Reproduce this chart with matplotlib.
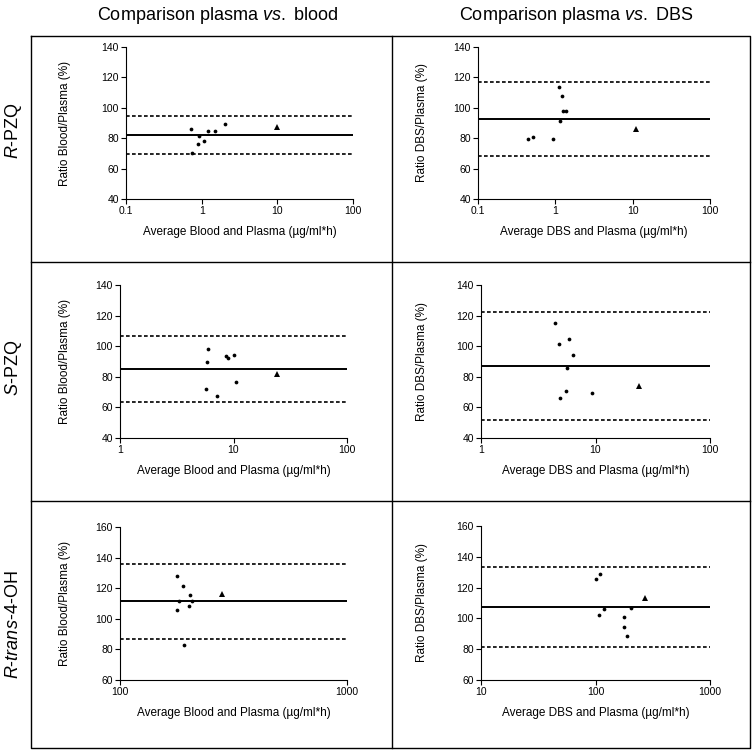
"""Bland-Altman style ratio plots: plasma vs blood / plasma vs DBS for three analytes."""

import matplotlib
matplotlib.use("Agg")
import matplotlib.pyplot as plt
from matplotlib.lines import Line2D
from matplotlib.ticker import FixedLocator, FormatStrFormatter, NullLocator

plt.rcParams["font.family"] = ["Liberation Sans", "DejaVu Sans"]
plt.rcParams["mathtext.fontset"] = "custom"
plt.rcParams["mathtext.rm"] = "Liberation Sans"
plt.rcParams["mathtext.it"] = "Liberation Sans:italic"

# ---- data ----
# R-PZQ, blood vs plasma
RPZQ_BLOOD_X = [0.73, 0.74, 0.93, 0.90, 1.07, 1.20, 1.49, 2.06]
RPZQ_BLOOD_Y = [86.1, 70.3, 81.4, 76.0, 78.0, 85.0, 85.0, 89.6]
RPZQ_BLOOD_TRI = [10.0, 87.4]
RPZQ_BLOOD_LINES = [82.3, 94.4, 69.8]  # mean, upper, lower

# R-PZQ, DBS vs plasma
RPZQ_DBS_X = [0.44, 0.51, 0.92, 1.10, 1.21, 1.25, 1.37, 1.16]
RPZQ_DBS_Y = [79.7, 80.8, 79.7, 113.8, 107.5, 97.6, 97.6, 91.0]
RPZQ_DBS_TRI = [11.2, 85.9]
RPZQ_DBS_LINES = [92.4, 116.9, 68.0]

# S-PZQ, blood vs plasma
SPZQ_BLOOD_X = [6.0, 5.8, 5.7, 7.2, 8.6, 8.9, 10.2, 10.6]
SPZQ_BLOOD_Y = [98.0, 90.0, 72.0, 67.4, 93.7, 92.4, 94.3, 76.7]
SPZQ_BLOOD_TRI = [24.0, 81.7]
SPZQ_BLOOD_LINES = [85.4, 106.7, 63.7]

# S-PZQ, DBS vs plasma
SPZQ_DBS_X = [4.4, 4.8, 5.9, 6.3, 5.6, 5.5, 4.9, 9.3]
SPZQ_DBS_Y = [115.0, 101.3, 104.6, 94.0, 86.0, 70.4, 66.3, 69.3]
SPZQ_DBS_TRI = [23.8, 74.1]
SPZQ_DBS_LINES = [87.3, 122.3, 52.0]

# R-trans-4-OH, blood vs plasma
ROH_BLOOD_X = [178, 190, 182, 179, 203, 201, 207, 192]
ROH_BLOOD_Y = [127.9, 121.3, 111.9, 105.5, 115.6, 108.4, 111.4, 83.1]
ROH_BLOOD_TRI = [280, 116.3]
ROH_BLOOD_LINES = [111.4, 136.0, 86.6]

# R-trans-4-OH, DBS vs plasma
ROH_DBS_X = [102, 109, 108, 119, 177, 179, 187, 205]
ROH_DBS_Y = [125.6, 128.9, 102.5, 106.2, 101.2, 94.4, 88.7, 106.6]
ROH_DBS_TRI = [271, 113.0]
ROH_DBS_LINES = [107.5, 133.7, 81.7]

ROW_LABELS = ["$\\mathit{R}$-PZQ", "$\\mathit{S}$-PZQ", "$\\mathit{R}$-$\\mathit{trans}$-4-OH"]
COL_TITLES = ["Comparison plasma $\\mathit{vs.}$ blood", "Comparison plasma $\\mathit{vs.}$ DBS"]
YLABELS = ["Ratio Blood/Plasma (%)", "Ratio DBS/Plasma (%)"]
XLABELS = ["Average Blood and Plasma (\u00b5g/ml*h)", "Average DBS and Plasma (\u00b5g/ml*h)"]

X_TICKS = [[0.1, 1, 10, 100], [1, 10, 100], [100, 1000], [10, 100, 1000]]
Y_TICKS = [[40, 60, 80, 100, 120, 140], [60, 80, 100, 120, 140, 160]]

PANELS = [
    # (row, col, x, y, tri, lines, xticks idx, yticks idx)
    (0, 0, RPZQ_BLOOD_X, RPZQ_BLOOD_Y, RPZQ_BLOOD_TRI, RPZQ_BLOOD_LINES, 0, 0),
    (0, 1, RPZQ_DBS_X, RPZQ_DBS_Y, RPZQ_DBS_TRI, RPZQ_DBS_LINES, 0, 0),
    (1, 0, SPZQ_BLOOD_X, SPZQ_BLOOD_Y, SPZQ_BLOOD_TRI, SPZQ_BLOOD_LINES, 1, 0),
    (1, 1, SPZQ_DBS_X, SPZQ_DBS_Y, SPZQ_DBS_TRI, SPZQ_DBS_LINES, 1, 0),
    (2, 0, ROH_BLOOD_X, ROH_BLOOD_Y, ROH_BLOOD_TRI, ROH_BLOOD_LINES, 2, 1),
    (2, 1, ROH_DBS_X, ROH_DBS_Y, ROH_DBS_TRI, ROH_DBS_LINES, 3, 1),
]

# ---- layout, in pixels of the 752x752 canvas ----
W = H = 752
# axes boxes (left, top, right, bottom)
AX_PX = {
    (0, 0): (126, 47, 353, 199),
    (0, 1): (478, 47, 710, 199),
    (1, 0): (120, 285, 347, 438),
    (1, 1): (481, 285, 710, 438),
    (2, 0): (120, 527, 347, 680),
    (2, 1): (481, 526, 710, 680),
}
YLABEL_X = [65, 422]
BOX_L, BOX_R, BOX_T, BOX_B = 31, 750, 36, 748
ROW_LINES = [262, 501]
COL_LINE = 392
ROW_LABEL_Y = [130, 368, 625]


def fx(px):
    return px / W


def fy(py):
    return 1 - py / H


def draw():
    fig = plt.figure(figsize=(W / 100, H / 100), dpi=100)

    for row, col, xs, ys, tri, lines, xi, yi in PANELS:
        l, t, r, b = AX_PX[(row, col)]
        ax = fig.add_axes([fx(l), fy(b), fx(r) - fx(l), fy(t) - fy(b)])
        ax.set_xscale("log")
        xt = X_TICKS[xi]
        yt = Y_TICKS[yi]
        ax.set_xlim(xt[0], xt[-1])
        ax.set_ylim(yt[0], yt[-1])
        ax.xaxis.set_major_locator(FixedLocator(xt))
        ax.xaxis.set_major_formatter(FormatStrFormatter("%g"))
        ax.xaxis.set_minor_locator(NullLocator())
        ax.yaxis.set_major_locator(FixedLocator(yt))

        mean, upper, lower = lines
        ax.axhline(mean, color="black", lw=1.4, zorder=2)
        ax.axhline(upper, color="black", lw=1.2, ls=(0, (2.2, 1.4)), zorder=2)
        ax.axhline(lower, color="black", lw=1.2, ls=(0, (2.2, 1.4)), zorder=2)
        ax.plot(xs, ys, "o", ms=2.7, color="black", mew=0, zorder=3, clip_on=False)
        ax.plot([tri[0]], [tri[1]], "^", ms=4.8, color="black", mew=0, zorder=3)

        for side in ("top", "right"):
            ax.spines[side].set_visible(False)
        for side in ("left", "bottom"):
            ax.spines[side].set_linewidth(0.8)
        ax.tick_params(direction="out", length=3.5, width=0.8, labelsize=7.5,
                       pad=1.5, colors="black")

        ax.set_ylabel(YLABELS[col], fontsize=8.5)
        ax.yaxis.set_label_coords((YLABEL_X[col] - l) / (r - l), 0.5)
        ax.set_xlabel(XLABELS[col], fontsize=8.5)
        ax.xaxis.set_label_coords(0.5, -33 / (b - t))
        ax.xaxis.label.set_va("center")
        ax.yaxis.label.set_va("center")

    # outer grid box
    k = dict(color="black", lw=1.0, transform=fig.transFigure)
    fig.add_artist(Line2D([fx(BOX_L), fx(BOX_R), fx(BOX_R), fx(BOX_L), fx(BOX_L)],
                          [fy(BOX_T), fy(BOX_T), fy(BOX_B), fy(BOX_B), fy(BOX_T)], **k))
    for yl in ROW_LINES:
        fig.add_artist(Line2D([fx(BOX_L), fx(BOX_R)], [fy(yl), fy(yl)], **k))
    fig.add_artist(Line2D([fx(COL_LINE), fx(COL_LINE)], [fy(BOX_T), fy(BOX_B)], **k))

    # column titles and row labels
    fig.text(fx(218), fy(16), COL_TITLES[0], ha="center", va="center", fontsize=13)
    fig.text(fx(576), fy(16), COL_TITLES[1], ha="center", va="center", fontsize=13)
    for lab, yy in zip(ROW_LABELS, ROW_LABEL_Y):
        fig.text(fx(14), fy(yy), lab, ha="center", va="center", rotation=90,
                 fontsize=13)

    fig.savefig("out.png", dpi=100)


if __name__ == "__main__":
    draw()
